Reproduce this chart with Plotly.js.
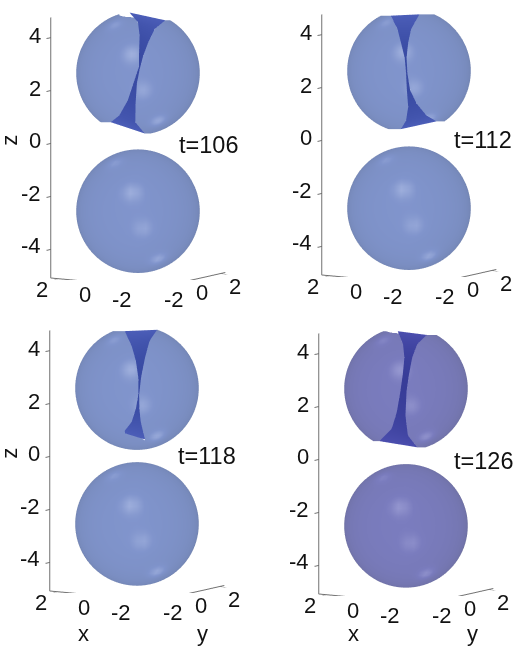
<!DOCTYPE html>
<html>
<head>
<meta charset="utf-8">
<script src="https://cdn.plot.ly/plotly-3.0.1.min.js"></script>
<style>html,body{margin:0;padding:0;background:#fff}</style>
</head>
<body>
<div id="chart" style="width:515px;height:650px"></div>
<script>
var times = ['t=106', 't=112', 't=118', 't=126'];
var xTicks = [2, 0, -2];
var yTicks = [-2, 0, 2];
var zTicks = [-4, -2, 0, 2, 4];

// sphere centres on the z axis, one per panel
var upperZ = [2.56, 2.53, 2.48, 2.57];
var lowerZ = [-2.66, -2.66, -2.65, -2.61];
var radius = 2.31;

// edges of the slit in the upper drop, seen from the camera (s sideways, h upwards)
var leftS106 = [-0.32, 0, 0.06, 0.04, 0.04, -0.17, -0.38, -0.70, -1.02];
var leftH106 = [2.26, 1.90, 1.40, 0.76, 0.25, -0.38, -1.02, -1.59, -1.84];
var rightS106 = [1.02, 0.63, 0.38, 0.19, 0.06, -0.04, -0.09, -0.10, 0.25];
var rightH106 = [1.97, 1.65, 1.14, 0.63, 0.13, -0.38, -1.14, -1.84, -2.26];

var leftS112 = [-0.68, -0.43, -0.30, -0.16, -0.11, -0.08, -0.03, -0.11, -0.30];
var leftH112 = [2.06, 1.56, 1.05, 0.48, -0.09, -0.72, -1.35, -1.86, -2.18];
var rightS112 = [0.39, 0.08, -0.03, -0.09, -0.06, 0.04, 0.29, 0.65, 1.03];
var rightH112 = [2.11, 1.56, 1.05, 0.48, -0.09, -0.72, -1.23, -1.67, -1.89];

var leftS118 = [-0.46, -0.20, -0.04, 0.05, 0.05, -0.04, -0.20, -0.52];
var leftH118 = [2.13, 1.58, 1.01, 0.38, -0.25, -0.76, -1.27, -1.67];
var rightS118 = [0.75, 0.47, 0.30, 0.15, 0.08, 0.09, 0.14, 0.30];
var rightH118 = [2.18, 1.77, 1.14, 0.38, -0.25, -0.76, -1.27, -1.92];

var leftS126 = [-0.31, -0.11, -0.06, -0.12, -0.21, -0.34, -0.53, -0.99];
var leftH126 = [2.15, 1.67, 1.16, 0.53, -0.10, -0.86, -1.49, -1.96];
var rightS126 = [0.78, 0.42, 0.23, 0.11, 0.02, -0.02, 0.07, 0.42];
var rightH126 = [2.01, 1.67, 1.16, 0.53, -0.10, -1.00, -1.75, -2.19];

var slitLeftS = [leftS106, leftS112, leftS118, leftS126];
var slitLeftH = [leftH106, leftH112, leftH118, leftH126];
var slitRightS = [rightS106, rightS112, rightS118, rightS126];
var slitRightH = [rightH106, rightH112, rightH118, rightH126];
var slitClosedBelow = [false, false, true, false];

// soft bright spots on each drop
var spotS = [-0.86, -0.22, 0.19, 0.76];
var spotH = [1.81, 0.70, -0.65, -1.80];
var spotGain = [0.20, 0.25, 0.18, 0.30];

var eye = {x: -2.2, y: -1.41, z: 0.38};
var boxScale = 1.95;

// panel placement, in pixels
var axisLeft = [52, 323, 50.5, 320];
var zeroTop = [140.7, 137.7, 453.7, 456.7];
var domW = 210, domH = 270;
var pxPerZ = 26.3;

var skin = [
  [[0, '#6B7CA4'], [0.6, '#8094CC'], [1, '#B4C2E8']],
  [[0, '#6B7CA4'], [0.6, '#8094CC'], [1, '#B4C2E8']],
  [[0, '#6B7CA4'], [0.6, '#8094CC'], [1, '#B4C2E8']],
  [[0, '#686A94'], [0.6, '#7A7CBE'], [1, '#A8AADC']]
];
var inner = [
  [[0, '#384AA2'], [1, '#4C5EB8']],
  [[0, '#384AA2'], [1, '#4C5EB8']],
  [[0, '#384AA2'], [1, '#4C5EB8']],
  [[0, '#383D98'], [1, '#4B4EAE']]
];

function unit(v) {
  var m = Math.sqrt(v[0] * v[0] + v[1] * v[1] + v[2] * v[2]);
  return [v[0] / m, v[1] / m, v[2] / m];
}
var back = unit([eye.x, eye.y, eye.z]);
var side = unit([-back[1], back[0], 0]);
var up = unit([-back[2] * back[0], -back[2] * back[1], 1 - back[2] * back[2]]);

function place(s, h, w, zc) {
  return [
    s * side[0] + h * up[0] + w * back[0],
    s * side[1] + h * up[1] + w * back[1],
    zc + s * side[2] + h * up[2] + w * back[2]
  ];
}

var spots = spotS.map(function (s, i) {
  var h = spotH[i];
  return [s / radius, h / radius, Math.sqrt(Math.max(0, radius * radius - s * s - h * h)) / radius];
});

function shade(s, h, w) {
  var ns = s / radius, nh = h / radius, nw = w / radius;
  var c = 0.6 * Math.pow(Math.max(nw, 0), 0.32);
  c = c - 0.05 * Math.max(0, ns);
  spots.forEach(function (p, i) {
    var d = (ns - p[0]) * (ns - p[0]) + (nh - p[1]) * (nh - p[1]) + (nw - p[2]) * (nw - p[2]);
    c += spotGain[i] * Math.exp(-d / 0.02);
  });
  return Math.max(0, Math.min(1, c));
}

function edgeAt(hs, ss, h) {
  if (h >= hs[0]) return ss[0];
  for (var i = 1; i < hs.length; i++) {
    if (h >= hs[i]) {
      var f = (h - hs[i]) / (hs[i - 1] - hs[i]);
      return ss[i] + f * (ss[i - 1] - ss[i]);
    }
  }
  return ss[ss.length - 1];
}

// a patch of sphere facing the camera, cut at the slit edge or the rim
function cap(zc, scale, hTop, hLow, fromEdge, toEdge, nameOf) {
  var rows = 44, cols = 24, xs = [], ys = [], zs = [], cs = [];
  var a0 = Math.asin(Math.max(-1, hLow / radius)), a1 = Math.asin(Math.min(1, hTop / radius));
  for (var i = 0; i <= rows; i++) {
    var a = a0 + (a1 - a0) * i / rows;
    var h = radius * Math.sin(a), rr = radius * Math.cos(a) + 1e-6;
    var t0 = fromEdge ? Math.asin(Math.max(-1, Math.min(1, fromEdge(h) / rr))) : -Math.PI / 2;
    var t1 = toEdge ? Math.asin(Math.max(-1, Math.min(1, toEdge(h) / rr))) : Math.PI / 2;
    var rx = [], ry = [], rz = [], rc = [];
    for (var j = 0; j <= cols; j++) {
      var t = t0 + (t1 - t0) * j / cols;
      var s = rr * Math.sin(t), w = rr * Math.cos(t);
      var p = place(s, h, w, zc);
      rx.push(p[0]); ry.push(p[1]); rz.push(p[2]); rc.push(shade(s, h, w));
    }
    xs.push(rx); ys.push(ry); zs.push(rz); cs.push(rc);
  }
  return {
    type: 'surface', scene: nameOf, x: xs, y: ys, z: zs, surfacecolor: cs, cmin: 0, cmax: 1,
    colorscale: scale, showscale: false, hoverinfo: 'skip',
    lighting: {ambient: 1, diffuse: 0, specular: 0, roughness: 1, fresnel: 0}
  };
}

// flat dark band behind the slit, spanned between its two edges
function band(zc, ls, lh, rs, rh, scale, nameOf) {
  var rows = 32, xs = [], ys = [], zs = [], cs = [];
  var last = ls.length - 1;
  for (var i = 0; i <= rows; i++) {
    var u = i / rows * last, n = Math.min(Math.floor(u), last - 1), f = u - n;
    var sa = ls[n] + f * (ls[n + 1] - ls[n]), ha = lh[n] + f * (lh[n + 1] - lh[n]);
    var sb = rs[n] + f * (rs[n + 1] - rs[n]), hb = rh[n] + f * (rh[n + 1] - rh[n]);
    var pa = place(sa, ha, -0.8, zc), pb = place(sb, hb, -0.8, zc);
    var tone = Math.pow(Math.abs(i / rows - 0.5) * 2, 2);
    xs.push([pa[0], pb[0]]); ys.push([pa[1], pb[1]]); zs.push([pa[2], pb[2]]); cs.push([tone, tone]);
  }
  return {
    type: 'surface', scene: nameOf, x: xs, y: ys, z: zs, surfacecolor: cs, cmin: 0, cmax: 1,
    colorscale: scale, showscale: false, hoverinfo: 'skip',
    lighting: {ambient: 1, diffuse: 0, specular: 0, roughness: 1, fresnel: 0}
  };
}

function note(text, px, py, size, extra) {
  return Object.assign({
    text: text, x: px / 515, y: 1 - py / 650, xref: 'paper', yref: 'paper', showarrow: false,
    xanchor: 'center', yanchor: 'middle', font: {family: 'Liberation Sans', size: size, color: '#111111'}
  }, extra || {});
}

var data = [];
var layout = {
  width: 515, height: 650, margin: {l: 0, r: 0, t: 0, b: 0},
  showlegend: false, paper_bgcolor: '#ffffff', annotations: []
};

var xLabelDx = [-10, 33, 70], xLabelDy = [149, 154, 159];
var yLabelDx = [122, 150, 183], yLabelDy = [159, 152, 146];
var timeX = [208, 483, 207, 483], timeY = [145, 140, 456, 461];

times.forEach(function (label, k) {
  var id = k ? 'scene' + (k + 1) : 'scene';
  var ls = slitLeftS[k], lh = slitLeftH[k], rs = slitRightS[k], rh = slitRightH[k];

  var edgeLs = ls, edgeLh = lh, edgeRs = rs, edgeRh = rh;
  var lowL = lh[lh.length - 1], lowR = rh[rh.length - 1];
  if (slitClosedBelow[k]) {
    var tipS = rs[rs.length - 1], tipH = rh[rh.length - 1];
    edgeLs = ls.concat([tipS, tipS]); edgeLh = lh.concat([tipH, -radius]);
    edgeRs = rs.concat([tipS]); edgeRh = rh.concat([-radius]);
    lowL = -radius; lowR = -radius;
  }
  data.push(band(upperZ[k], ls, lh, rs, rh, inner[k], id));
  data.push(cap(upperZ[k], skin[k], lh[0], lowL, null, function (h) { return edgeAt(edgeLh, edgeLs, h); }, id));
  data.push(cap(upperZ[k], skin[k], rh[0], lowR, function (h) { return edgeAt(edgeRh, edgeRs, h); }, null, id));
  data.push(cap(lowerZ[k], skin[k], radius, -radius, null, null, id));

  var cx = axisLeft[k] + 86, cy = zeroTop[k] + 4.2;
  var ax = {
    showbackground: false, showgrid: false, zeroline: false, showline: true, linecolor: '#707070', linewidth: 2,
    ticks: 'outside', ticklen: 8, tickwidth: 2, tickcolor: '#707070', showticklabels: false, title: {text: ''}, showspikes: false
  };
  layout[id] = {
    domain: {x: [(cx - domW / 2) / 515, (cx + domW / 2) / 515], y: [1 - (cy + domH / 2) / 650, 1 - (cy - domH / 2) / 650]},
    camera: {projection: {type: 'orthographic'}, eye: eye, up: {x: 0, y: 0, z: 1}},
    aspectmode: 'manual', aspectratio: {x: 0.4797 * boxScale, y: 0.4797 * boxScale, z: boxScale},
    hovermode: false, dragmode: false,
    xaxis: Object.assign({}, ax, {range: [-2.36, 2.36], tickvals: yTicks}),
    yaxis: Object.assign({}, ax, {range: [-2.36, 2.36], tickvals: xTicks}),
    zaxis: Object.assign({}, ax, {range: [-5.08, 4.76], tickvals: zTicks})
  };

  zTicks.forEach(function (v) {
    layout.annotations.push(note(String(v), axisLeft[k] - 9, zeroTop[k] - v * pxPerZ, 22, {xanchor: 'right'}));
  });
  xTicks.forEach(function (v, i) {
    layout.annotations.push(note(String(v), axisLeft[k] + xLabelDx[i], zeroTop[k] + xLabelDy[i], 22));
  });
  yTicks.forEach(function (v, i) {
    layout.annotations.push(note(String(v), axisLeft[k] + yLabelDx[i], zeroTop[k] + yLabelDy[i], 22));
  });
  layout.annotations.push(note(label, timeX[k], timeY[k], 23.5));
  if (k % 2 === 0) layout.annotations.push(note('z', 10, zeroTop[k], 22, {textangle: -90}));
  if (k > 1) {
    layout.annotations.push(note('x', axisLeft[k] + 33, 633, 22));
    layout.annotations.push(note('y', axisLeft[k] + 152, 633, 22));
  }
});

Plotly.newPlot('chart', data, layout, {displayModeBar: false});
</script>
</body>
</html>
